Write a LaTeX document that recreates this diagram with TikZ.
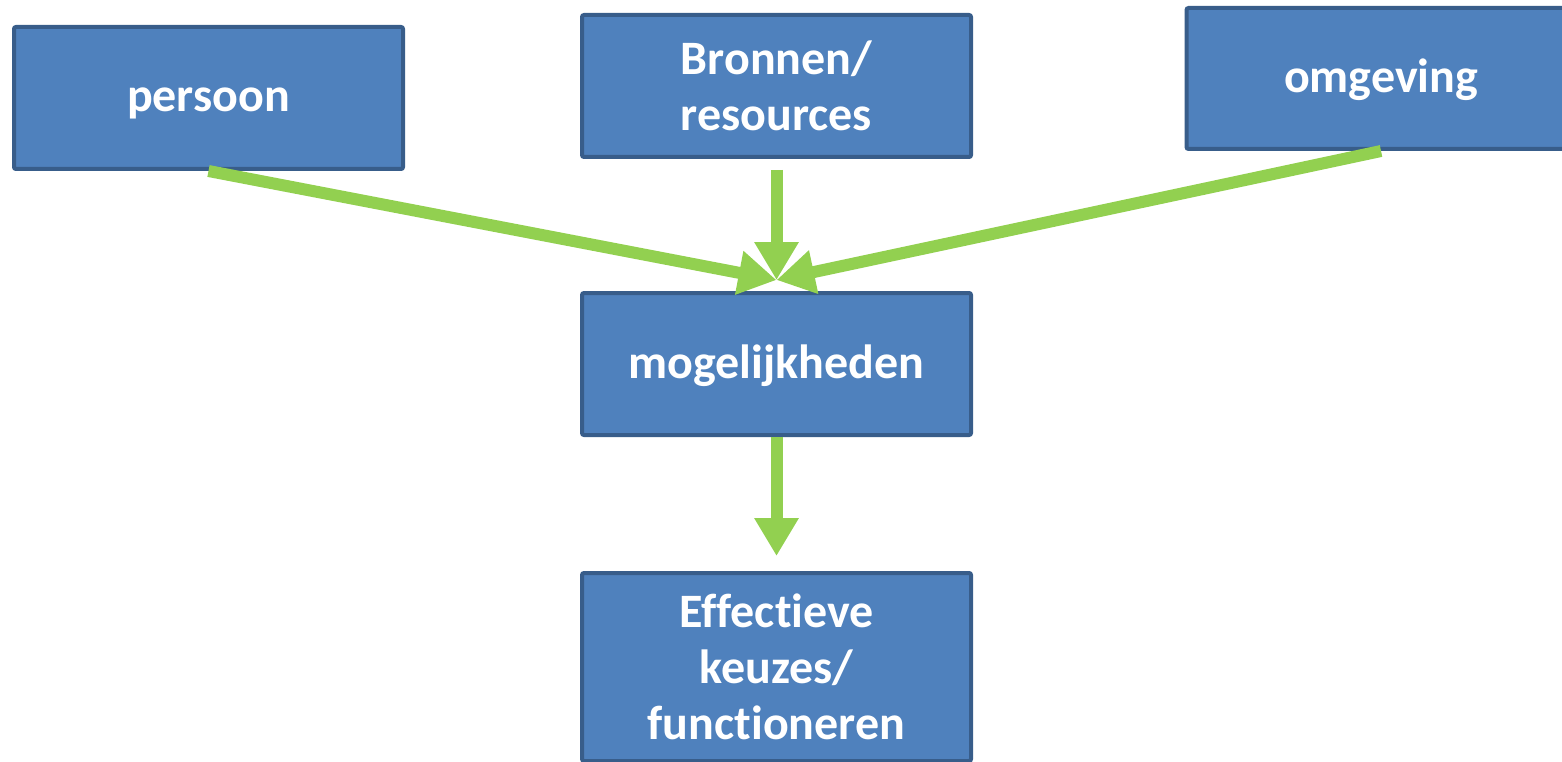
\documentclass[tikz,border=0pt]{standalone}
\usepackage{fontspec}
\setmainfont{Carlito}[Ligatures={NoCommon}]
\usetikzlibrary{arrows.meta}
\definecolor{boxfill}{HTML}{4F81BD}
\definecolor{boxline}{HTML}{385D8A}
\definecolor{arrowgreen}{HTML}{92D050}
\begin{document}
\begin{tikzpicture}[x=1pt,y=-1pt,
  blockbox/.style={draw=boxline, line width=4pt, fill=boxfill, rounded corners=2pt,
    minimum width=389pt, text=white, align=center,
    font=\fontsize{48}{56}\selectfont\bfseries, inner sep=0pt},
  oneline/.style={text height=28pt, text depth=0pt},
  greenarrow/.style={draw=arrowgreen, line width=12pt,
    -{Triangle[width=42pt,length=38pt,fill=arrowgreen]}}]
\useasboundingbox (0,0) rectangle (1562,762);
\node[blockbox, oneline, minimum height=142pt] (persoon) at (208.5,98) {persoon};
\node[blockbox, minimum height=142pt] (bronnen) at (776.5,86) {Bronnen/\\resources};
\node[blockbox, oneline, minimum height=141pt] (omgeving) at (1381,78.5) {omgeving};
\node[blockbox, oneline, minimum height=142pt] (mogelijk) at (776.5,364) {mogelijkheden};
\node[blockbox, minimum height=188pt] (effect) at (776.5,667) {Effectieve\\keuzes/\\functioneren};
\coordinate (meet) at (776.5,280);
\coordinate (bstart) at ([yshift=-11pt]bronnen.south);
\coordinate (effin) at ([yshift=15pt]effect.north);
\draw[greenarrow] (persoon.south) -- (meet);
\draw[greenarrow] (bstart) -- (meet);
\draw[greenarrow] (omgeving.south) -- (meet);
\draw[greenarrow] (mogelijk.south) -- (effin);
\end{tikzpicture}
\end{document}
